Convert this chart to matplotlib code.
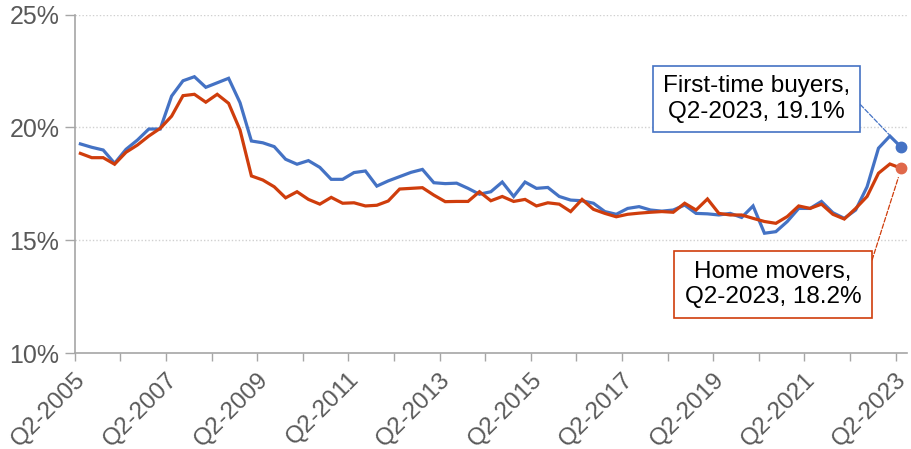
import matplotlib
matplotlib.use("Agg")
import matplotlib.pyplot as plt
import numpy as np

plt.rcParams['font.family'] = ['Liberation Sans', 'DejaVu Sans']

# Quarterly Q2-2005 .. Q2-2023
quarters = []
for y in range(2005, 2024):
    for q in (2, 3, 4, 1):
        yy = y if q != 1 else y + 1
        quarters.append(f"Q{q}-{yy}")
quarters = quarters[:73]

first_time_buyers = [
    19.27, 19.12, 19.00, 18.41, 19.03, 19.44, 19.93, 19.93, 21.39, 22.07,
    22.25, 21.78, 21.98, 22.18, 21.10, 19.40, 19.32, 19.15, 18.59, 18.37,
    18.53, 18.23, 17.70, 17.70, 18.00, 18.07, 17.40, 17.63, 17.82, 18.01,
    18.14, 17.55, 17.51, 17.53, 17.30, 17.04, 17.15, 17.58, 16.94, 17.58,
    17.30, 17.34, 16.94, 16.78, 16.75, 16.64, 16.27, 16.15, 16.41, 16.49,
    16.34, 16.29, 16.34, 16.56, 16.19, 16.17, 16.12, 16.19, 16.01, 16.52,
    15.31, 15.38, 15.83, 16.41, 16.41, 16.72, 16.22, 15.97, 16.34, 17.37,
    19.08, 19.62, 19.12,
]
home_movers = [
    18.85, 18.66, 18.66, 18.37, 18.90, 19.22, 19.62, 19.96, 20.50, 21.41,
    21.47, 21.12, 21.47, 21.07, 19.89, 17.85, 17.67, 17.37, 16.88, 17.15,
    16.81, 16.60, 16.90, 16.64, 16.66, 16.52, 16.55, 16.74, 17.27, 17.30,
    17.33, 17.00, 16.71, 16.72, 16.72, 17.15, 16.75, 16.94, 16.72, 16.81,
    16.52, 16.66, 16.60, 16.27, 16.81, 16.37, 16.19, 16.04, 16.15, 16.20,
    16.24, 16.27, 16.24, 16.64, 16.34, 16.83, 16.19, 16.12, 16.12, 15.97,
    15.83, 15.75, 16.05, 16.52, 16.41, 16.60, 16.15, 15.94, 16.41, 16.94,
    17.97, 18.38, 18.19,
]
y_ticks = [10, 15, 20, 25]
ftb_label = "First-time buyers,\nQ2-2023, 19.1%"
hm_label = "Home movers,\nQ2-2023, 18.2%"

BLUE = "#4472C4"
RED = "#CF3D0C"
RED_DOT = "#E0684A"
GRAY = "#595959"
AXGRAY = "#A6A6A6"

fig = plt.figure(figsize=(9.12, 4.49), dpi=100)
ax = fig.add_axes([0.0819, 0.2138, 0.9126, 0.7535])

x = np.arange(len(quarters))
ax.plot(x, first_time_buyers, color=BLUE, lw=2.3, solid_joinstyle='miter', zorder=3)
ax.plot(x, home_movers, color=RED, lw=2.3, solid_joinstyle='miter', zorder=3)
ax.plot(x[-1], first_time_buyers[-1], 'o', color=BLUE, ms=7.5, zorder=4)
ax.plot(x[-1], home_movers[-1], 'o', color=RED_DOT, ms=7.5, zorder=4)

ax.set_xlim(-0.5, len(quarters) - 0.5)
ax.set_ylim(10, 25)
ax.set_yticks(y_ticks)
ax.set_yticklabels([f"{v}%" for v in y_ticks])

major = np.arange(-0.5, len(quarters) - 0.5, 8)
minor = np.arange(-0.5, len(quarters) - 0.5, 4)
ax.set_xticks(major)
ax.set_xticklabels([quarters[int(m + 0.5)] for m in major], rotation=45,
                   ha='right', va='top', rotation_mode='anchor')
ax.set_xticks(minor, minor=True)

ax.tick_params(axis='x', which='both', length=6, color=AXGRAY, width=1,
               labelsize=17.5, labelcolor=GRAY, pad=5)
ax.tick_params(axis='y', length=7, color=AXGRAY, width=1, labelsize=18,
               labelcolor=GRAY, pad=4)

for s in ('top', 'right'):
    ax.spines[s].set_visible(False)
for s in ('left', 'bottom'):
    ax.spines[s].set_color(AXGRAY)
    ax.spines[s].set_linewidth(1.2)

for v in y_ticks[1:]:
    ax.axhline(v, color="#D0D0D0", lw=1, ls=(0, (1, 1.5)), zorder=1)

ax.annotate(ftb_label, xy=(x[-1], first_time_buyers[-1]), xytext=(59.3, 21.26),
            ha='center', va='center', fontsize=17.5, color='black',
            bbox=dict(boxstyle='square,pad=0.4', fc='white', ec=BLUE, lw=1.2),
            arrowprops=dict(arrowstyle='-', color=BLUE, lw=0.9, ls='--',
                            relpos=(1, 0.5),
                            connectionstyle='arc,angleA=0,armA=5,angleB=0,armB=0,rad=0',
                            shrinkA=0, shrinkB=13),
            zorder=5)
ax.annotate(hm_label, xy=(x[-1], home_movers[-1]), xytext=(60.75, 13.04),
            ha='center', va='center', fontsize=17.5, color='black',
            bbox=dict(boxstyle='square,pad=0.42', fc='white', ec=RED, lw=1.2),
            arrowprops=dict(arrowstyle='-', color=RED, lw=0.9, ls='--',
                            relpos=(1, 0.5),
                            connectionstyle='arc,angleA=0,armA=3,angleB=0,armB=0,rad=0',
                            shrinkA=0, shrinkB=7),
            zorder=5)

fig.savefig("out.png", dpi=100)
